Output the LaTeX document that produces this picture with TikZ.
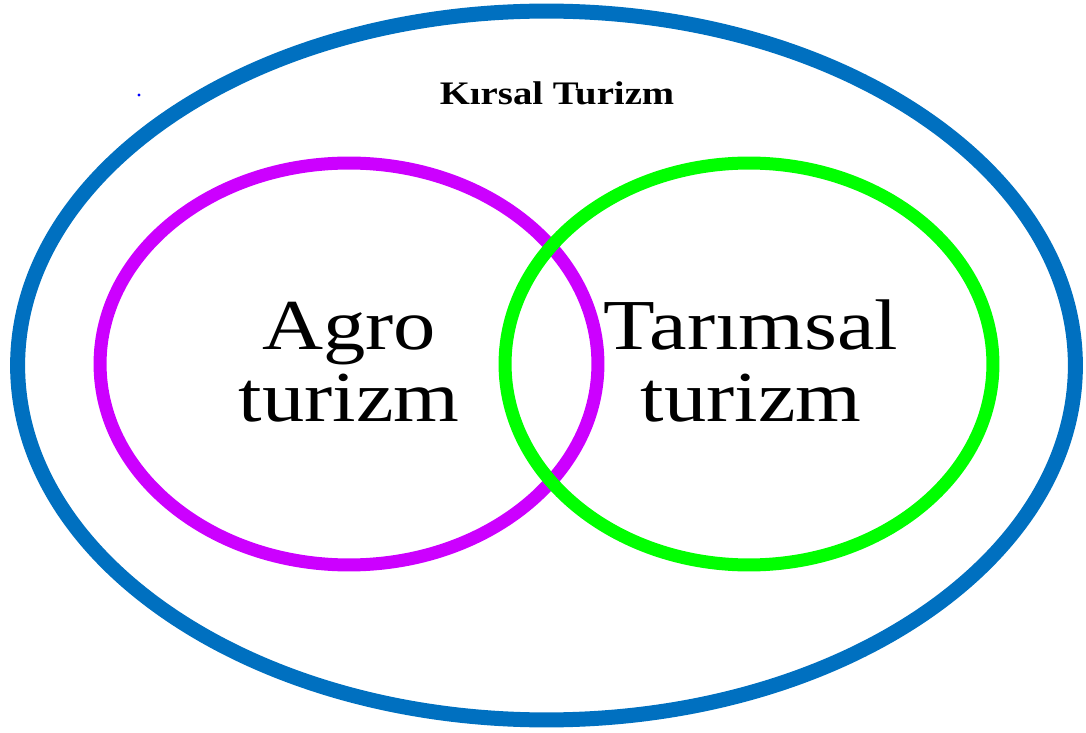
\documentclass[tikz,border=0pt]{standalone}
\usepackage{fontspec}
\setmainfont{Liberation Serif}
\newfontfamily\wideserif[FakeStretch=1.18]{Liberation Serif}
\definecolor{ruralblue}{HTML}{0070C0}
\definecolor{agropurple}{HTML}{CC00FF}
\definecolor{farmgreen}{HTML}{00FF00}
\usetikzlibrary{shapes.geometric}

\begin{document}
\begin{tikzpicture}[x=0.02cm,y=-0.02cm,
  ring/.style={ellipse,draw,inner sep=0pt,outer sep=0pt},
  bigtext/.style={font=\wideserif\fontsize{40.8}{40.8}\selectfont,align=center,inner sep=0pt}]
  \useasboundingbox (0,0) rectangle (1086,733);

  % Outer set
  \node[ring,ruralblue,line width=0.3cm,minimum width=21.16cm,minimum height=14.18cm] (kirsal) at (546.5,365.5) {};
  \node[font=\wideserif\bfseries\fontsize{18.7}{18.7}\selectfont,anchor=base,inner sep=0pt] (kirsallabel) at (557,105) {Kırsal Turizm};
  \fill[blue] (139,95) circle (1.6);

  % Left set
  \node[ring,agropurple,line width=0.26cm,minimum width=9.96cm,minimum height=8.04cm] (agro) at (349,364) {};
  \node[bigtext] (agrolabel) at (349,362) {Agro\\turizm};

  % Right set
  \node[ring,farmgreen,line width=0.26cm,minimum width=9.76cm,minimum height=8.04cm] (tarim) at (749,364) {};
  \node[bigtext] (tarimlabel) at (751,361) {Tarımsal\\turizm};
\end{tikzpicture}
\end{document}
